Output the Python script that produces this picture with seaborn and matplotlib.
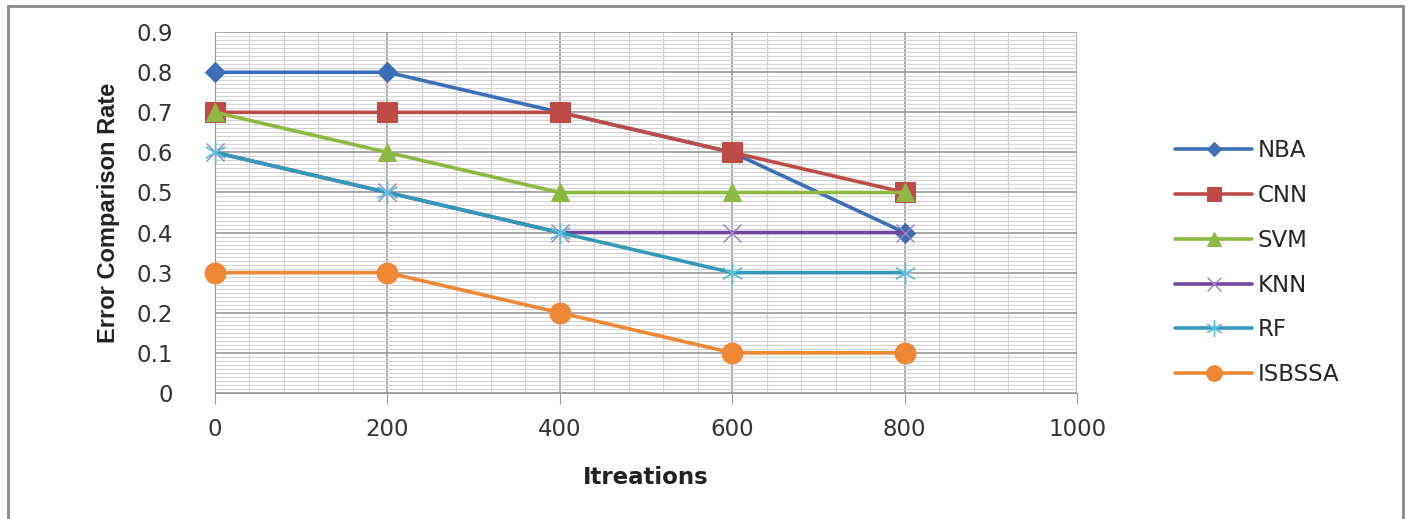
import numpy as np
import pandas as pd
import seaborn as sns
import matplotlib
matplotlib.use("Agg")
import matplotlib.pyplot as plt
from matplotlib.ticker import MultipleLocator
from matplotlib.lines import Line2D

iterations = [0, 200, 400, 600, 800]
nba = [0.8, 0.8, 0.7, 0.6, 0.4]
cnn = [0.7, 0.7, 0.7, 0.6, 0.5]
svm = [0.7, 0.6, 0.5, 0.5, 0.5]
knn = [0.6, 0.5, 0.4, 0.4, 0.4]
rf = [0.6, 0.5, 0.4, 0.3, 0.3]
isbssa = [0.3, 0.3, 0.2, 0.1, 0.1]

series_names = ["NBA", "CNN", "SVM", "KNN", "RF", "ISBSSA"]
series_vals = [nba, cnn, svm, knn, rf, isbssa]
colors = ["#3D6FB6", "#BE4B48", "#8DB943", "#7046A0", "#3399B8", "#EE8834"]
markers = ["D", "s", "^", "x", (6, 2, 0), "o"]
msizes = [10, 14, 13, 13, 16, 15]

rows = []
for n, vals in zip(series_names, series_vals):
    for x, v in zip(iterations, vals):
        rows.append({"Iterations": x, "Rate": v, "Method": n})
df = pd.DataFrame(rows)

sns.set_style("white")
plt.rcParams['font.family'] = ['DejaVu Sans']

fig = plt.figure(figsize=(14.09, 5.19), dpi=100)
ax = fig.add_axes([0.1526, 0.243, 0.6118, 0.695])

for i, n in enumerate(series_names):
    sub = df[df["Method"] == n]
    sns.lineplot(data=sub, x="Iterations", y="Rate", ax=ax, color=colors[i],
                 linewidth=2.6, marker=markers[i], markersize=msizes[i],
                 label=n, zorder=3 + i, legend=True, clip_on=False)

for line, mk, c in zip(ax.get_lines(), markers, colors):
    line.set_clip_on(False)
    if mk == "x":
        line.set_markeredgecolor("#9C82C0")
        line.set_markeredgewidth(1.0)
    elif isinstance(mk, tuple):
        line.set_markeredgecolor("#5FC0DA")
        line.set_markeredgewidth(1.0)
    else:
        line.set_markeredgecolor(c)
        line.set_markerfacecolor(c)

ax.set_xlim(0, 1000)
ax.set_ylim(0, 0.9)
ax.xaxis.set_major_locator(MultipleLocator(200))
ax.xaxis.set_minor_locator(MultipleLocator(40))
ax.yaxis.set_minor_locator(MultipleLocator(0.01))
ax.set_yticks(np.arange(0, 0.91, 0.1))
ax.set_yticklabels(["0"] + [f"{v:.1f}" for v in np.arange(0.1, 0.91, 0.1)])
ax.grid(which="major", color="#9A9A9A", linewidth=1.2)
ax.grid(which="minor", color="#D4D4D4", linewidth=0.9)
ax.set_axisbelow(True)
for s in ["top", "right"]:
    ax.spines[s].set_visible(False)
ax.spines["left"].set_color("#9A9A9A")
ax.spines["bottom"].set_color("#9A9A9A")
ax.tick_params(axis="x", which="major", length=8, color="#9A9A9A", labelsize=16.5,
               labelcolor="#333333", pad=10, direction="out", bottom=True)
ax.tick_params(axis="y", which="major", length=0, labelsize=16.5, labelcolor="#333333", pad=30)
ax.tick_params(which="minor", length=0)

ax.set_xlabel("Itreations", fontsize=16.5, fontweight="bold", labelpad=18, color="#222222")
ax.set_ylabel("Error Comparison Rate", fontsize=17, fontweight="bold",
              family=["Liberation Sans Narrow", "Liberation Sans"],
              labelpad=12, color="#222222")

handles, labels = ax.get_legend_handles_labels()
leg = ax.legend(handles, labels, loc="upper left", bbox_to_anchor=(1.09, 0.76), frameon=False,
                fontsize=16.5, labelspacing=0.95, handlelength=3.35, handletextpad=0.25,
                markerscale=0.75)

# outer border (left, top, right)
border_kw = dict(color="#8A8A8A", linewidth=2.0, transform=fig.transFigure)
fig.add_artist(Line2D([0.0057, 0.0057], [0, 0.989], **border_kw))
fig.add_artist(Line2D([0.0057, 0.9954], [0.989, 0.989], **border_kw))
fig.add_artist(Line2D([0.9954, 0.9954], [0, 0.989], **border_kw))

fig.savefig("out.png", dpi=100)
